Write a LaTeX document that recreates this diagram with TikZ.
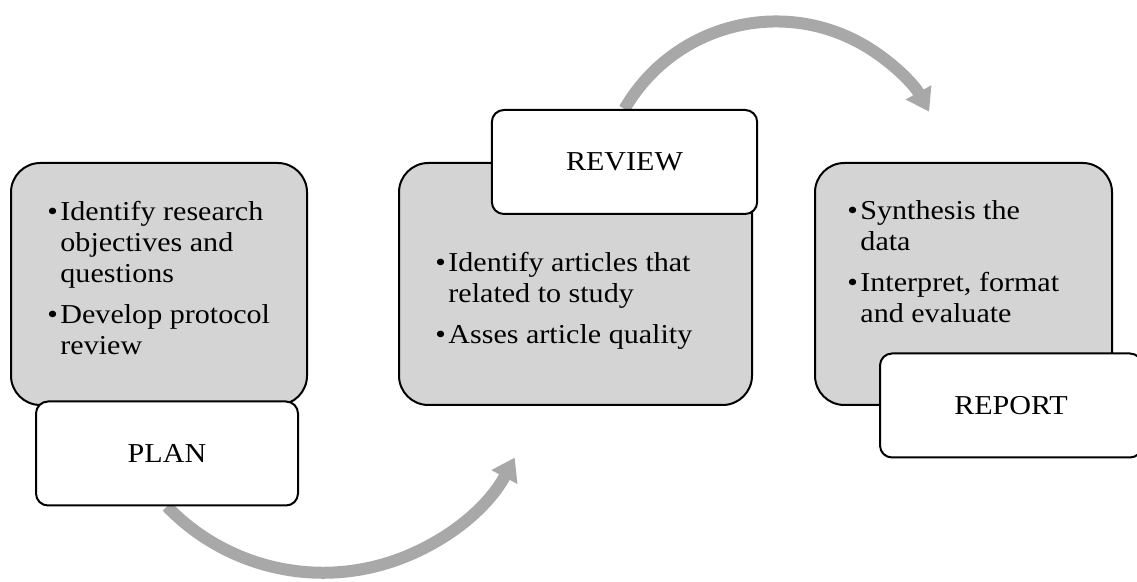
\documentclass[tikz,border=0pt]{standalone}
\usepackage{fontspec}
\setmainfont{Liberation Serif}[FakeStretch=1.1]
\usetikzlibrary{arrows.meta}
\definecolor{boxfill}{rgb}{0.83,0.83,0.83}
\definecolor{arcgray}{rgb}{0.66,0.66,0.66}
\pgfdeclarelayer{bg}
\pgfsetlayers{bg,main}

\begin{document}
\begin{tikzpicture}[line cap=round,line join=round,x=0.75pt,y=0.75pt,
    stage/.style={draw=black,line width=1.5pt,fill=boxfill,rounded corners=22pt,minimum height=181.5pt},
    tag/.style={draw=black,line width=1.5pt,fill=white,rounded corners=9pt,minimum width=196.5pt,minimum height=78pt,font=\fontsize{20.5}{24}\selectfont},
    items/.style={inner sep=0pt,anchor=base west,font=\fontsize{20.5}{23.25}\selectfont},
    flow/.style={color=arcgray,line width=9pt,line cap=butt,-{Triangle[length=16.5pt,width=21pt]}}]
  \useasboundingbox (0,0) rectangle (1137,581);
  % grey stage boxes
  \node[stage,minimum width=222pt] (plan) at (159,297) {};
  \node[stage,minimum width=264.75pt] (review) at (575.5,297) {};
  \node[stage,minimum width=222.75pt] (report) at (963.5,297) {};
  % white tags
  \node[tag] (planlbl) at (167,127.5) {PLAN};
  \node[tag,minimum width=199pt] (reviewlbl) at (624.5,419) {REVIEW};
  \node[tag] (reportlbl) at (1011,175.5) {REPORT};
  % bullet lists
  \node[items] (plantxt) at (47,360) {\begin{tabular}[t]{@{}l@{\hspace{2pt}}l@{}}
      \textbullet & Identify research\\
                  & objectives and\\
                  & questions\\[7pt]
      \textbullet & Develop protocol\\
                  & review
    \end{tabular}};
  \node[items] (reviewtxt) at (435,309) {\begin{tabular}[t]{@{}l@{\hspace{2pt}}l@{}}
      \textbullet & Identify articles that\\
                  & related to study\\[7pt]
      \textbullet & Asses article quality
    \end{tabular}};
  \node[items] (reporttxt) at (847,361) {\begin{tabular}[t]{@{}l@{\hspace{2pt}}l@{}}
      \textbullet & Synthesis the\\
                  & data\\[7pt]
      \textbullet & Interpret, format\\
                  & and evaluate
    \end{tabular}};
  % curved arrows
  \begin{pgfonlayer}{bg}
    \draw[flow] (planlbl.south) arc[start angle=224,end angle=332,radius=217];
    \draw[flow] (reviewlbl.north) arc[start angle=150,end angle=29,radius=175];
  \end{pgfonlayer}
\end{tikzpicture}
\end{document}
